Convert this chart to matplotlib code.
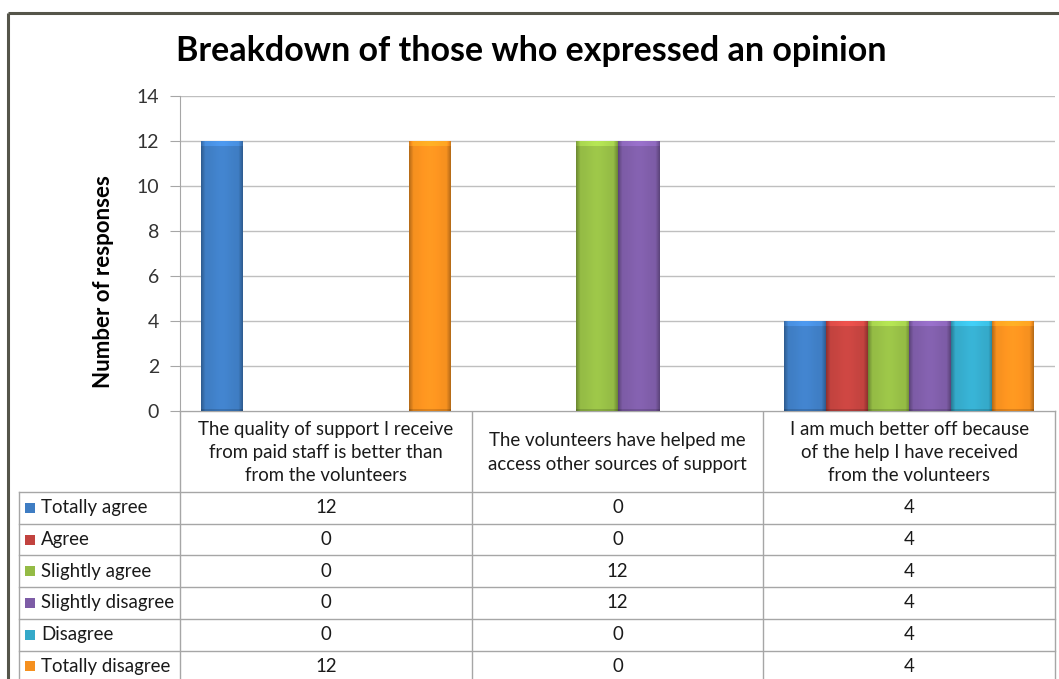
import numpy as np
import matplotlib
matplotlib.use("Agg")
import matplotlib.pyplot as plt
from matplotlib.colors import to_rgb

plt.rcParams['font.family'] = ['Lato', 'DejaVu Sans']

# survey data
categories = [
    "The quality of support I receive\nfrom paid staff is better than\nfrom the volunteers",
    "The volunteers have helped me\naccess other sources of support",
    "I am much better off because\nof the help I have received\nfrom the volunteers",
]
series = ["Totally agree", "Agree", "Slightly agree",
          "Slightly disagree", "Disagree", "Totally disagree"]
values = [
    [12, 0, 4],
    [0, 0, 4],
    [0, 12, 4],
    [0, 12, 4],
    [0, 0, 4],
    [12, 0, 4],
]
colors = ["#3f7dc3", "#c2433f", "#94bb45", "#7d5ca6", "#35a9c9", "#f5901f"]
yticks = [0, 2, 4, 6, 8, 10, 12, 14]

W, H = 1059, 679
fig = plt.figure(figsize=(W / 100, H / 100), dpi=100)

# overlay in pixel units for frame and data table
ov = fig.add_axes([0, 0, 1, 1])
ov.set_xlim(0, W)
ov.set_ylim(H, 0)
ov.axis('off')

# plot area
px_left, px_right, px_top, px_bottom = 180, 1055, 96, 411
ax = fig.add_axes([px_left / W, 1 - px_bottom / H,
                   (px_right - px_left) / W, (px_bottom - px_top) / H])
ax.set_xlim(-0.5, len(categories) - 0.5)
ax.set_ylim(0, 14)
ax.set_yticks(yticks)
ax.set_xticks([])
ax.yaxis.grid(True, color='#bfbfbf', lw=1)
ax.set_axisbelow(True)
for s in ['top', 'right', 'bottom']:
    ax.spines[s].set_visible(False)
ax.spines['left'].set_color('#a6a6a6')
ax.tick_params(axis='y', direction='out', length=7, color='#a6a6a6',
               labelsize=14, labelcolor='#333333', pad=8)
ax.set_ylabel("Number of responses", fontsize=16, fontweight='bold',
              color='black')
ax.yaxis.set_label_coords(-0.075, 0.41)


def bar_shading(color, nx, ny):
    """RGB image of a bevelled bar: darker sides, lighter top rim."""
    base = np.array(to_rgb(color))
    u = np.linspace(0, 1, nx)
    side = 1 - 0.25 * np.clip(1 - np.minimum(u, 1 - u) / 0.1, 0, 1)
    side *= 1 + 0.07 * np.exp(-((u - 0.5) / 0.25) ** 2)
    shade = np.tile(side, (ny, 1))
    rim = min(5, ny)
    shade[:rim, :] *= 1.15
    shade[-2:, :] *= 0.85
    img = np.clip(base[None, None, :] * shade[:, :, None], 0, 1)
    return img


bw = 1 / 7
x = np.arange(len(categories))
for i, (name, col) in enumerate(zip(series, colors)):
    xs = x + (i - 2.5) * bw
    bars = ax.bar(xs, values[i], width=bw, color=col, zorder=2, lw=0)
    for b in bars:
        h = b.get_height()
        if h <= 0:
            continue
        x0 = b.get_x()
        img = bar_shading(col, 42, int(h * 22.5))
        ax.imshow(img, extent=(x0, x0 + bw, 0, h), aspect='auto',
                  zorder=3, interpolation='bilinear')
ax.set_xlim(-0.5, len(categories) - 0.5)
ax.set_ylim(0, 14)

# title
ov.text(531, 51, "Breakdown of those who expressed an opinion",
        fontsize=24.5, fontweight='bold', ha='center', va='center', color='black')

# outer chart frame
ov.plot([8, W], [12.5, 12.5], color='#55554a', lw=2.2, solid_capstyle='butt')
ov.plot([8, 8], [12.5, H], color='#55554a', lw=2.2, solid_capstyle='butt')

# data table
line_c = '#a6a6a6'
col_w = (px_right - px_left) / len(categories)
col_edges = [px_left + k * col_w for k in range(len(categories) + 1)]
head_bottom = 492
row_h = 31.7
tab_left = 19
fs = 13.4

ov.plot([px_left, px_right], [px_bottom, px_bottom], color=line_c, lw=1)
for xe in col_edges:
    ov.plot([xe, xe], [px_bottom, H], color=line_c, lw=1)
ov.plot([tab_left, tab_left], [head_bottom, H], color=line_c, lw=1)
for r in range(len(series) + 1):
    yy = head_bottom + r * row_h
    ov.plot([tab_left, px_right], [yy, yy], color=line_c, lw=1)

for k, cat in enumerate(categories):
    cx = (col_edges[k] + col_edges[k + 1]) / 2
    ov.text(cx, (px_bottom + head_bottom) / 2 + 1, cat, ha='center', va='center',
            fontsize=fs, linespacing=1.45, color='#1a1a1a')

for r, (name, col) in enumerate(zip(series, colors)):
    cy = head_bottom + (r + 0.5) * row_h
    ov.add_patch(plt.Rectangle((25, cy - 5), 10, 10, color=col, lw=0))
    ov.text(41, cy, name, ha='left', va='center', fontsize=fs, color='#1a1a1a')
    for k in range(len(categories)):
        cx = (col_edges[k] + col_edges[k + 1]) / 2
        ov.text(cx, cy, str(values[r][k]), ha='center', va='center',
                fontsize=fs, color='#1a1a1a')

fig.savefig("out.png", dpi=100)
